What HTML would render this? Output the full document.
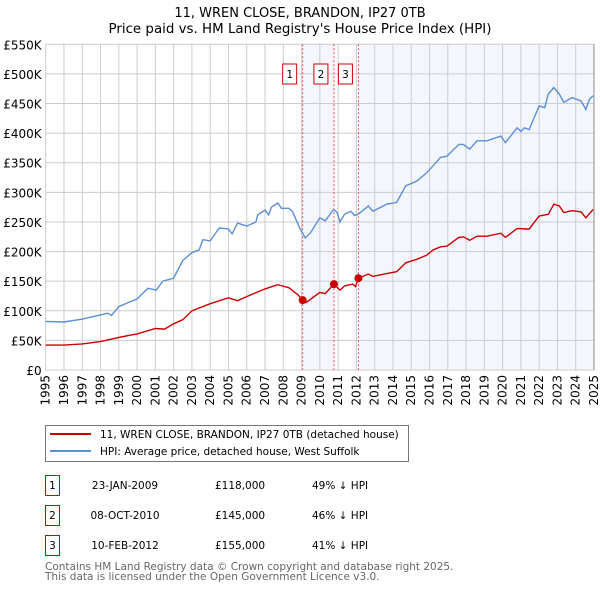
<!DOCTYPE html>
<html><head><meta charset="utf-8"><style>
body{margin:0;background:#fff;font-family:"DejaVu Sans","Liberation Sans",sans-serif;}
svg text{font-family:"DejaVu Sans","Liberation Sans",sans-serif;}
</style></head><body>
<svg id="c" width="600" height="590" xmlns="http://www.w3.org/2000/svg"></svg>
<script>
const hpiYears=[1995,1996,1997,1998,1998.4,1998.6,1999,2000,2000.6,2001.05,2001.4,2002,2002.5,2003,2003.4,2003.6,2004,2004.5,2005,2005.2,2005.5,2006,2006.5,2006.6,2007,2007.2,2007.35,2007.7,2007.9,2008.3,2008.5,2008.9,2009.2,2009.5,2010,2010.3,2010.75,2010.95,2011.1,2011.35,2011.7,2011.9,2012.1,2012.65,2012.9,2013.65,2014.2,2014.7,2015.3,2015.85,2016.2,2016.6,2016.95,2017.6,2017.85,2018.2,2018.6,2019.15,2019.9,2020.15,2020.8,2021,2021.2,2021.45,2022,2022.3,2022.5,2022.8,2023.1,2023.35,2023.8,2024.3,2024.55,2024.75,2024.95];
const hpiValues=[82,81,86,93,96,92,107,120,138,135,150,155,185,198,203,220,218,240,238,230,248,243,250,262,270,262,275,282,273,273,268,240,223,232,257,252,271,266,250,263,268,261,263,277,268,280,283,311,319,333,345,359,361,381,381,373,387,387,395,384,409,403,409,406,446,443,466,477,466,452,460,454,440,457,463];
const ppYears=[1995,1996,1997,1998,1999,2000,2001,2001.5,2002,2002.5,2003,2004,2005,2005.5,2006,2007,2007.7,2008.3,2008.8,2009.06,2009.25,2010,2010.3,2010.77,2011.1,2011.35,2011.8,2011.95,2012.11,2012.65,2012.9,2013.65,2014.2,2014.7,2015.3,2015.85,2016.2,2016.6,2016.95,2017.6,2017.85,2018.2,2018.6,2019.15,2019.9,2020.15,2020.8,2021.45,2022,2022.5,2022.8,2023.1,2023.35,2023.8,2024.3,2024.55,2024.95];
const ppValues=[42,42,44,48,55,61,70,69,78,85,100,112,122,117,124,137,144,139,127,118,114,131,129,145,135,142,145,141,155,162,158,163,166,181,187,194,203,208,209,224,225,219,226,226,231,224,239,238,260,263,280,277,266,269,267,257,271];
const sales=[{n:"1",year:2009.06,price:118},{n:"2",year:2010.77,price:145},{n:"3",year:2012.11,price:155}];
const yTicks=[0,50,100,150,200,250,300,350,400,450,500,550];
const yTickLabels=["£0","£50K","£100K","£150K","£200K","£250K","£300K","£350K","£400K","£450K","£500K","£550K"];
const xTicks=[1995,1996,1997,1998,1999,2000,2001,2002,2003,2004,2005,2006,2007,2008,2009,2010,2011,2012,2013,2014,2015,2016,2017,2018,2019,2020,2021,2022,2023,2024,2025];

const NS="http://www.w3.org/2000/svg";
const svg=document.getElementById('c');
const L=45.7,R=594,T=44.3,B=370;
const xs=y=>L+(y-1995)/30*(R-L);
const ys=v=>B-v/550*(B-T);
function mk(tag,attrs,parent){const e=document.createElementNS(NS,tag);for(const k in attrs)e.setAttribute(k,attrs[k]);(parent||svg).appendChild(e);return e;}

let t=mk('text',{x:300,y:17,'text-anchor':'middle','font-size':13,fill:'#000'});t.textContent="11, WREN CLOSE, BRANDON, IP27 0TB";


t=mk('text',{x:300,y:33,'text-anchor':'middle','font-size':13,fill:'#000',textLength:383,lengthAdjust:'spacingAndGlyphs'});t.textContent="Price paid vs. HM Land Registry's House Price Index (HPI)";



let sh=mk('rect',{x:xs(sales[0].year),y:T,width:xs(sales[1].year)-xs(sales[0].year),height:B-T,fill:'#eef3fc',opacity:0.7});


sh=mk('rect',{x:xs(sales[2].year),y:T,width:R-xs(sales[2].year),height:B-T,fill:'#eef3fc',opacity:0.7});



const grid=mk('g',{stroke:'#cccccc','stroke-width':1});


yTicks.forEach((v,i)=>{
  mk('line',{x1:L,x2:R,y1:ys(v),y2:ys(v)},grid);
  const tx=mk('text',{x:L-4,y:ys(v)+5,'text-anchor':'end','font-size':12,fill:'#000'});
  tx.textContent=yTickLabels[i];
  
  
});
xTicks.forEach(yr=>{
  mk('line',{x1:xs(yr),x2:xs(yr),y1:T,y2:B},grid);
  const tx=mk('text',{x:0,y:0,'text-anchor':'end','font-size':12,fill:'#000',transform:`translate(${xs(yr)+4},${B+5}) rotate(-90)`});
  tx.textContent=yr;
  
  
});

sales.forEach(s=>{
  const ln=mk('line',{x1:xs(s.year),x2:xs(s.year),y1:T,y2:B,stroke:'#e05050','stroke-width':1,'stroke-dasharray':'2,2'});
  
  
  const bx=mk('rect',{x:xs(s.year)-20,y:64,width:14,height:20,fill:'#fff',stroke:'#cc0000','stroke-width':1});
  
  
  const tx=mk('text',{x:xs(s.year)-13,y:78,'text-anchor':'middle','font-size':10.5,fill:'#000'});
  tx.textContent=s.n;
});

function path(xsA,vs){return xsA.map((y,i)=>(i?'L':'M')+xs(y).toFixed(1)+','+ys(vs[i]).toFixed(1)).join('');}
const hp=mk('path',{d:path(hpiYears,hpiValues),fill:'none',stroke:'#5b8fd4','stroke-width':1.4});


const pp=mk('path',{d:path(ppYears,ppValues),fill:'none',stroke:'#cc0000','stroke-width':1.4});


sales.forEach(s=>{
  const d=mk('circle',{cx:xs(s.year),cy:ys(s.price),r:4,fill:'#cc0000'});
  
  
});
const ax=mk('line',{x1:R,x2:R,y1:T,y2:B,stroke:'#888','stroke-width':1});



const lg=mk('g',{});


mk('rect',{x:45.5,y:425.5,width:363,height:36,fill:'#fff',stroke:'#777','stroke-width':1},lg);
mk('line',{x1:50,x2:91,y1:434,y2:434,stroke:'#cc0000','stroke-width':2},lg);
mk('line',{x1:50,x2:91,y1:451,y2:451,stroke:'#5b8fd4','stroke-width':2},lg);
t=mk('text',{x:100,y:438,'font-size':10.5,fill:'#000'},lg);t.textContent="11, WREN CLOSE, BRANDON, IP27 0TB (detached house)";


t=mk('text',{x:100,y:455,'font-size':10.5,fill:'#000'},lg);t.textContent="HPI: Average price, detached house, West Suffolk";



const rows=[["1","23-JAN-2009","£118,000","49% ↓ HPI"],["2","08-OCT-2010","£145,000","46% ↓ HPI"],["3","10-FEB-2012","£155,000","41% ↓ HPI"]];
rows.forEach((r,i)=>{
  const y=475+i*30;
  const g=mk('g',{});
  
  
  mk('rect',{x:45.5,y:y+0.5,width:14,height:20,fill:'#fff',stroke:'#cc0000','stroke-width':1},g);
  let a=mk('text',{x:52.5,y:y+14,'text-anchor':'middle','font-size':10.5},g);a.textContent=r[0];
  a=mk('text',{x:125,y:y+14,'text-anchor':'middle','font-size':10.5},g);a.textContent=r[1];
  a=mk('text',{x:215,y:y+14,'font-size':10.5},g);a.textContent=r[2];
  a=mk('text',{x:312,y:y+14,'font-size':10.5},g);a.textContent=r[3];
});
t=mk('text',{x:45,y:570,'font-size':10.5,fill:'#666'});t.textContent="Contains HM Land Registry data © Crown copyright and database right 2025.";


t=mk('text',{x:45,y:580,'font-size':10.5,fill:'#666'});t.textContent="This data is licensed under the Open Government Licence v3.0.";


</script>
</body></html>
